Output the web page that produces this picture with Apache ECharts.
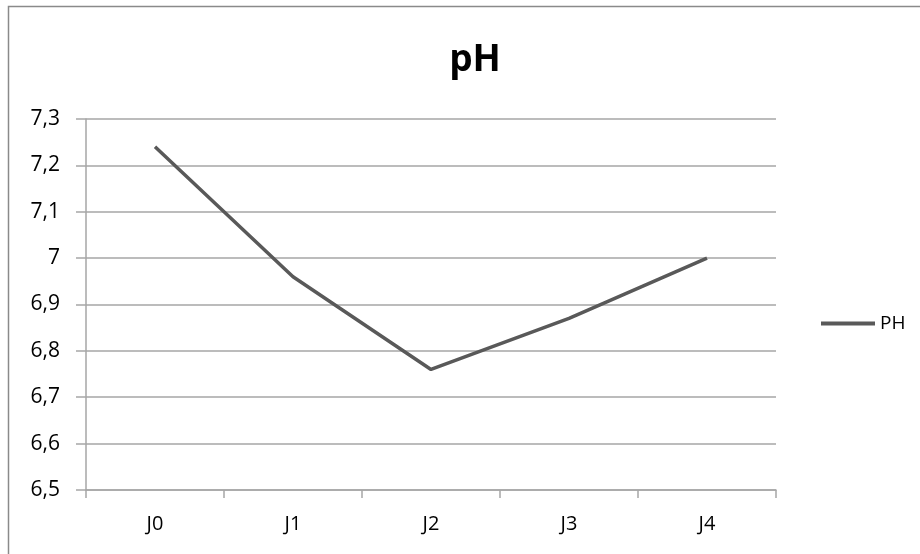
<!DOCTYPE html>
<html>
<head>
<meta charset="utf-8">
<script src="https://cdn.jsdelivr.net/npm/echarts@6/dist/echarts.min.js"></script>
<style>
  html, body { margin: 0; padding: 0; background: #ffffff; }
  #chart { width: 920px; height: 554px; }
</style>
</head>
<body>
<div id="chart"></div>
<script>
// Sampling days and measured pH
const categories = ['J0', 'J1', 'J2', 'J3', 'J4'];
const phValues = [7.24, 6.96, 6.76, 6.87, 7.00];
const seriesName = 'PH';
const chartTitle = 'pH';
const yMin = 6.5, yMax = 7.3, yStep = 0.1;

const font = '"Open Sans", "Liberation Sans", sans-serif';
const chart = echarts.init(document.getElementById('chart'), null, { renderer: 'canvas' });

chart.setOption({
  animation: false,
  backgroundColor: '#ffffff',
  title: {
    text: chartTitle,
    left: 470,
    textAlign: 'center',
    top: 37,
    textStyle: { fontFamily: font, fontSize: 37, fontWeight: 'bold', color: '#000000' }
  },
  graphic: [{
    type: 'rect',
    shape: { x: 8.5, y: 6.5, width: 1000, height: 1000 },
    style: { fill: 'none', stroke: '#8a8a8a', lineWidth: 1.5 },
    silent: true
  }],
  legend: {
    data: [{ name: seriesName, icon: 'rect' }],
    left: 816,
    top: 309,
    itemWidth: 54,
    itemHeight: 4,
    itemGap: 0,
    textStyle: { fontFamily: font, fontSize: 19, color: '#000000', padding: [0, 0, 0, 0] }
  },
  grid: { left: 86, right: 144, top: 119, bottom: 64, containLabel: false },
  xAxis: {
    type: 'category',
    data: categories,
    boundaryGap: true,
    axisLine: { show: true, lineStyle: { color: '#a6a6a6', width: 1.5 } },
    axisTick: { show: true, length: 8, alignWithLabel: false, lineStyle: { color: '#a6a6a6', width: 1.5 } },
    axisLabel: { fontFamily: font, fontSize: 20, color: '#000000', margin: 24 },
    splitLine: { show: false }
  },
  yAxis: {
    type: 'value',
    min: yMin,
    max: yMax,
    interval: yStep,
    axisLine: { show: true, lineStyle: { color: '#a6a6a6', width: 1.5 } },
    axisTick: { show: true, length: 10, lineStyle: { color: '#a6a6a6', width: 1.5 } },
    axisLabel: {
      fontFamily: font, fontSize: 21, color: '#000000', margin: 26,
      formatter: v => String(Math.round(v * 10) / 10).replace('.', ',')
    },
    splitLine: { show: true, lineStyle: { color: '#a6a6a6', width: 1.5 } }
  },
  series: [{
    name: seriesName,
    type: 'line',
    data: phValues,
    symbol: 'none',
    lineStyle: { color: '#595959', width: 3.5 },
    itemStyle: { color: '#595959' }
  }]
});
</script>
</body>
</html>
